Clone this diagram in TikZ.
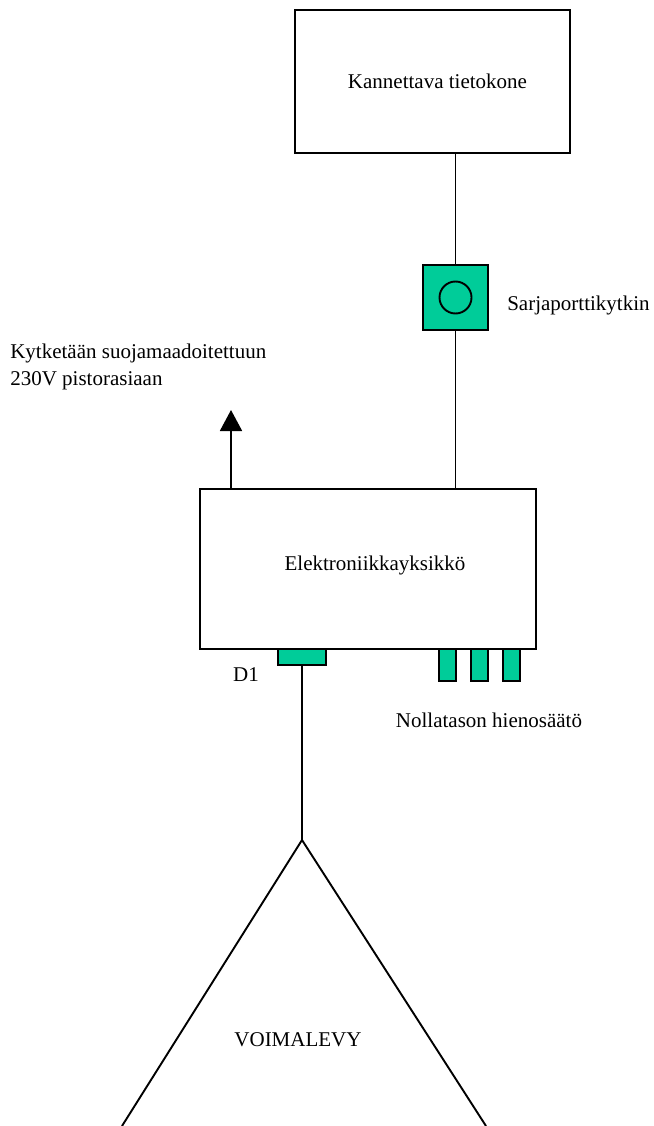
\documentclass[tikz,border=0pt]{standalone}
\usepackage{fontspec}
\setmainfont{Liberation Serif}
\usetikzlibrary{arrows.meta}
\definecolor{liitin}{RGB}{0,204,153}

\begin{document}
\begin{tikzpicture}[x=1pt,y=-1pt,line width=1.9pt,
    every node/.style={font=\fontsize{21}{27}\selectfont},
    laatikko/.style={draw,minimum width=#1,inner sep=0pt},
    liitos/.style={draw,fill=liitin,inner sep=0pt}]
  \useasboundingbox (0,0) rectangle (653,1126);
  \node[laatikko=275pt,minimum height=143pt,
    label={[xshift=5pt]center:Kannettava tietokone}] (kone) at (432.5,81.5) {};
  \node[liitos,minimum width=65pt,minimum height=65pt] (kytkin) at (455.5,297.5) {};
  \draw (kytkin) circle (16pt);
  \node[anchor=west] (kytkinteksti) at (503,305) {Sarjaporttikytkin};
  \node[laatikko=336pt,minimum height=160pt,
    label={[xshift=7pt,yshift=4pt]center:Elektroniikkayksikkö}] (elek) at (368,569) {};
  \node[anchor=west,align=left] (pistoke) at (6,367) {Kytketään suojamaadoitettuun\\230V pistorasiaan};
  \coordinate (nuoli) at (231,410);
  \node[liitos,minimum width=48pt,minimum height=16pt] (d1) at (302,657) {};
  \node (d1teksti) at (246,675) {D1};
  \node[liitos,minimum width=17pt,minimum height=32pt] (s1) at (447.5,665) {};
  \node[liitos,minimum width=17pt,minimum height=32pt] (s2) at (479.5,665) {};
  \node[liitos,minimum width=17pt,minimum height=32pt] (s3) at (511.5,665) {};
  \node (saatoteksti) at (489,720) {Nollatason hienosäätö};
  \coordinate (karki) at (302,840);
  \coordinate (vasen) at (122,1126);
  \coordinate (oikea) at (486,1126);
  \node (levy) at (298,1040) {VOIMALEVY};

  \draw (kytkin.north) -- (kytkin.north |- kone.south);
  \draw (kytkin.south) -- (kytkin.south |- elek.north);
  \draw[-{Triangle[width=22pt,length=21pt]}] (elek.north -| nuoli) -- (nuoli);
  \draw (d1.south) -- (karki);
  \draw (vasen) -- (karki) -- (oikea);
\end{tikzpicture}
\end{document}
